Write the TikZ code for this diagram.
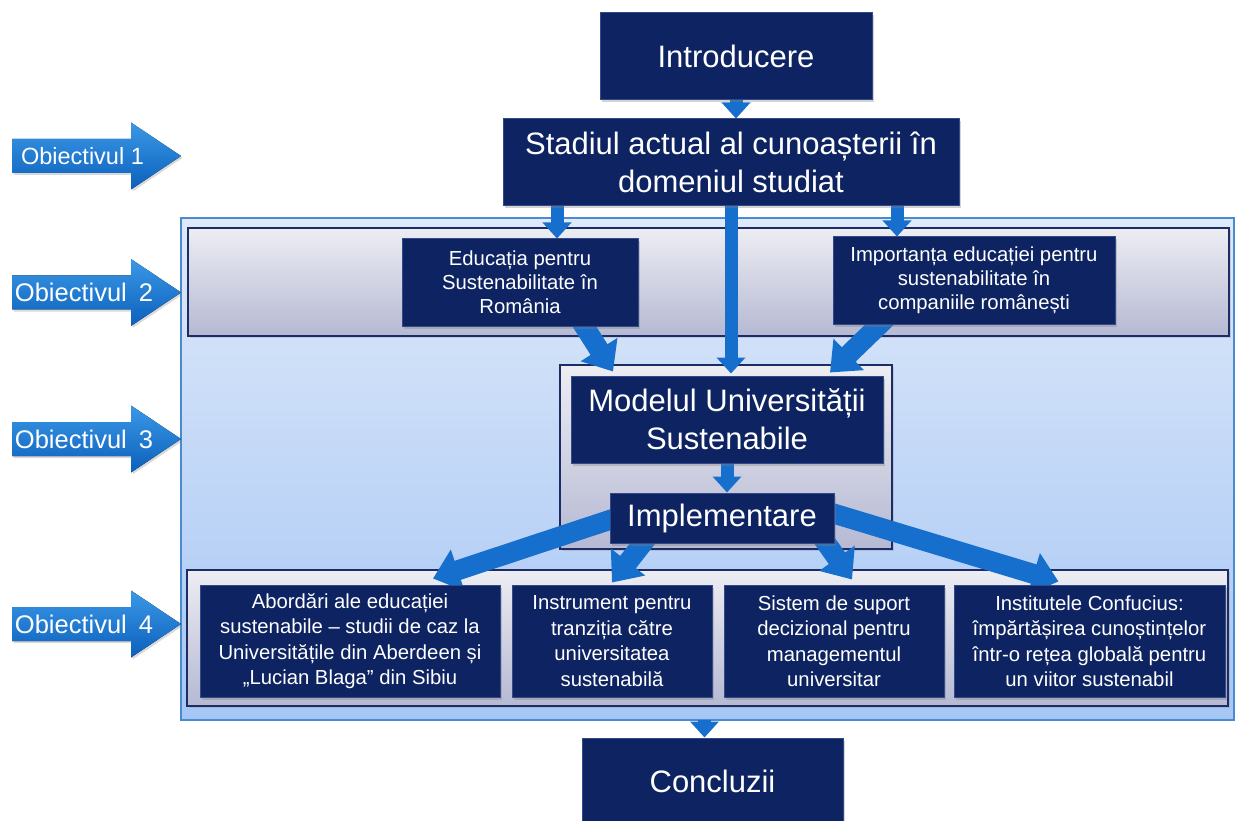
\documentclass[tikz,border=0pt]{standalone}
\usepackage{fontspec}
\setmainfont{Liberation Sans}
\usetikzlibrary{arrows.meta,shadows,calc}
\pgfdeclarelayer{bg}
\pgfdeclarelayer{mid}
\pgfsetlayers{bg,mid,main}
\definecolor{navy}{HTML}{0E2462}
\definecolor{navyedge}{HTML}{34498A}
\definecolor{arrblue}{HTML}{166FCC}
\definecolor{contedge}{HTML}{4A8AD0}
\definecolor{panedge}{HTML}{1E2C66}
\definecolor{panTop}{HTML}{EDEDF3}
\definecolor{panBot}{HTML}{B5B9D3}
\begin{document}
\begin{tikzpicture}[x=1pt,y=-1pt,
  navybox/.style={fill=navy, draw=navyedge, line width=1pt, text=white, align=center, inner sep=0pt,
    drop shadow={shadow xshift=2pt,shadow yshift=-2.5pt,opacity=0.35}},
  bigtext/.style={font=\fontsize{31}{38}\selectfont},
  midtext/.style={font=\fontsize{20.3}{24}\selectfont},
  lowtext/.style={font=\fontsize{20.3}{25.5}\selectfont},
  panel/.style={top color=panTop, bottom color=panBot, draw=panedge, line width=1.2pt, inner sep=0pt,
    drop shadow={shadow xshift=1.5pt,shadow yshift=-2pt,opacity=0.25}},
  thinarr/.style={draw=arrblue, line width=13pt, -{Triangle[width=28pt,length=16pt]}},
  thickarr/.style={draw=arrblue, line width=20pt, -{Triangle[width=42pt,length=26pt]}},
  objtext/.style={text=white, inner sep=0pt},
]
\useasboundingbox (0,0) rectangle (1235,821);

% main boxes
\node[navybox, bigtext, minimum width=272pt, minimum height=87pt] (intro) at (736,56.5) {Introducere};
\node[navybox, bigtext, minimum width=456pt, minimum height=87pt] (stadiul) at (731,162.5) {Stadiul actual al cunoașterii în\\domeniul studiat};
\node[navybox, midtext, minimum width=236pt, minimum height=87pt] (educ) at (520,282.5) {Educația pentru\\Sustenabilitate în\\România};
\node[navybox, midtext, minimum width=282pt, minimum height=87pt] (imp) at (974,280.5) {Importanța educației pentru\\sustenabilitate în\\companiile românești};
\node[navybox, bigtext, minimum width=312pt, minimum height=87pt] (model) at (727,419.5) {Modelul Universității\\Sustenabile};
\node[navybox, bigtext, minimum width=224pt, minimum height=50pt] (impl) at (722,518) {Implementare};
\node[navybox, lowtext, minimum width=300pt, minimum height=112pt] (abord) at (350,641) {Abordări ale educației\\sustenabile – studii de caz la\\Universitățile din Aberdeen și\\„Lucian Blaga” din Sibiu};
\node[navybox, lowtext, minimum width=200pt, minimum height=112pt] (instr) at (612,641) {Instrument pentru\\tranziția către\\universitatea\\sustenabilă};
\node[navybox, lowtext, minimum width=220pt, minimum height=112pt] (sist) at (834,641) {Sistem de suport\\decizional pentru\\managementul\\universitar};
\node[navybox, lowtext, minimum width=271pt, minimum height=112pt] (inst) at (1089.5,641) {Institutele Confucius:\\împărtășirea cunoștințelor\\într-o rețea globală pentru\\un viitor sustenabil};
\node[navybox, bigtext, minimum width=261pt, minimum height=86pt] (concl) at (712.5,781) {Concluzii};

% containers
\begin{pgfonlayer}{bg}
\node[top color={rgb,255:red,222;green,233;blue,250}, bottom color={rgb,255:red,166;green,198;blue,244},
  draw=contedge, line width=1.5pt, minimum width=1053pt, minimum height=502pt, inner sep=0pt] (cont) at (707.5,469) {};
\node[panel, minimum width=1041pt, minimum height=108pt] (pan2) at (708.5,282) {};
\node[panel, minimum width=332pt, minimum height=184pt] (pan3) at (726,457) {};
\node[panel, minimum width=1041pt, minimum height=136pt] (pan4) at (707.5,638) {};
\end{pgfonlayer}

% arrows
\begin{pgfonlayer}{mid}
\draw[thinarr] ([yshift=4pt]intro.south) -- (intro.south |- stadiul.north);
\coordinate (s1) at ([xshift=37pt]educ.north);
\draw[thinarr] ([yshift=4pt]s1 |- stadiul.south) -- (s1);
\draw[thinarr] ([yshift=4pt]stadiul.south) -- ([yshift=2pt]stadiul.south |- model.north);
\coordinate (s3) at ([xshift=-77pt]imp.north);
\draw[thinarr] ([yshift=4pt]s3 |- stadiul.south) -- (s3);
\draw[thickarr] ([xshift=58pt,yshift=10pt]educ.south) -- ([xshift=-114pt,yshift=4pt]model.north);
\draw[thickarr] ([xshift=-84pt,yshift=10pt]imp.south) -- ([xshift=103pt,yshift=3pt]model.north);
\draw[thinarr] ([yshift=4pt]model.south) -- (model.south |- impl.north);
\draw[thickarr] ([xshift=6pt]impl.west) -- ([xshift=83pt,yshift=6pt]abord.north);
\draw[thickarr] ([xshift=-70pt,yshift=12pt]impl.south) -- ([yshift=2pt]instr.north);
\draw[thickarr] ([xshift=96pt,yshift=12pt]impl.south) -- ([xshift=18pt,yshift=5pt]sist.north);
\draw[thickarr] ([xshift=-6pt,yshift=6pt]impl.east) -- ([xshift=-31pt,yshift=3pt]inst.north);
\coordinate (c1) at ([xshift=-8pt]concl.north);
\draw[thinarr] ([yshift=1pt]c1 |- cont.south) -- (c1);
\end{pgfonlayer}

% objective arrows
\foreach \yy/\nm in {156/o1, 292.5/o2, 439/o3, 624/o4} {
  \fill[top color={rgb,255:red,58;green,152;blue,230}, bottom color={rgb,255:red,12;green,96;blue,188},
        drop shadow={shadow xshift=1.5pt,shadow yshift=-2pt,opacity=0.3}]
    (12,{\yy-17}) -- (131,{\yy-17}) -- (131,{\yy-33.5}) -- (181,\yy) -- (131,{\yy+33.5}) -- (131,{\yy+17}) -- (12,{\yy+17}) -- cycle;
}
\node[objtext, font=\fontsize{23.5}{28}\selectfont] (t1) at (82.5,156) {Obiectivul 1};
\node[objtext, font=\fontsize{25.5}{30}\selectfont] (t2) at (84,292.5) {Obiectivul\hspace{12pt}2};
\node[objtext, font=\fontsize{25.5}{30}\selectfont] (t3) at (84,439) {Obiectivul\hspace{12pt}3};
\node[objtext, font=\fontsize{25.5}{30}\selectfont] (t4) at (84,624) {Obiectivul\hspace{12pt}4};
\end{tikzpicture}
\end{document}
